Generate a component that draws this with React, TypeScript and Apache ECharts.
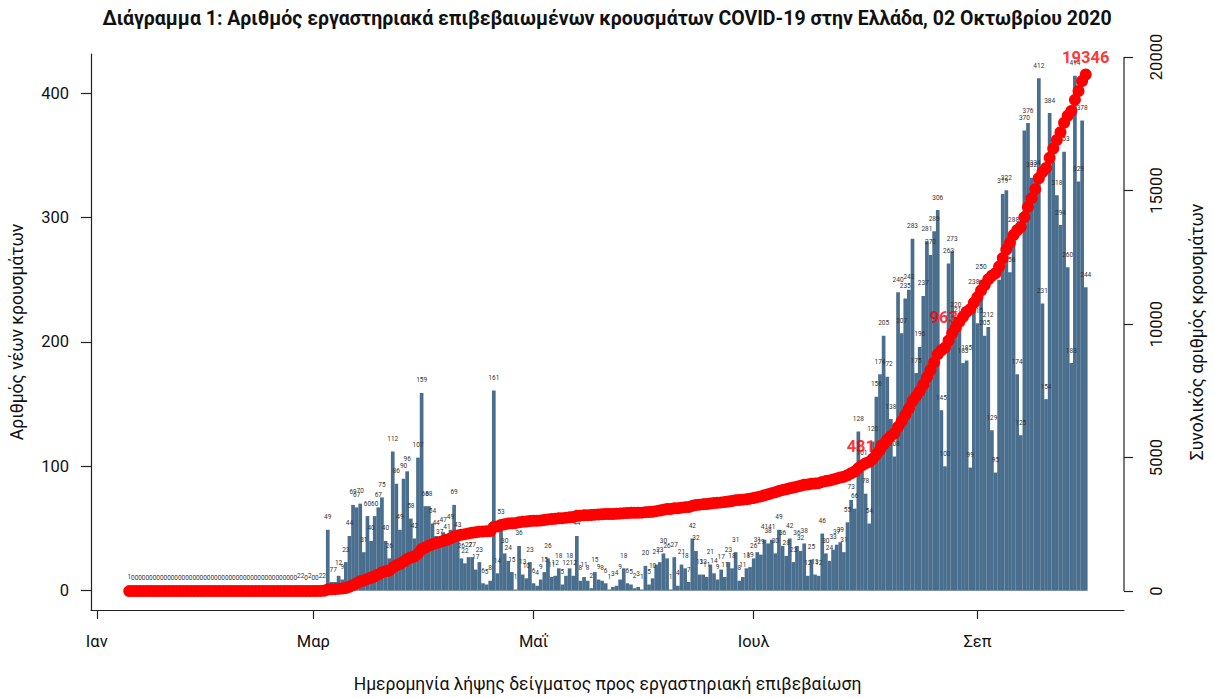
import React, { useEffect, useRef } from "react";
import * as echarts from "echarts";

// Daily new laboratory-confirmed cases by sample date, starting 10 Jan 2020 (index 0) up to 1 Oct 2020
const dailyCases: number[] = [
  1,
  0, 0, 0, 0, 0, 0, 0, 0, 0, 0,
  0, 0, 0, 0, 0, 0, 0, 0, 0, 0,
  0, 0, 0, 0, 0, 0, 0, 0, 0, 0,
  0, 0, 0, 0, 0, 0, 0, 0, 0, 0,
  0, 0, 0, 0, 0,
  0, 2, 2, 0, 2, 0, 0, 2, 2,
  49, 7, 7, 12, 9, 23, 44, 69, 67, 70,
  31, 60, 40, 60, 67, 75, 40, 26, 112, 86,
  49, 90, 96, 58, 42, 107, 159, 68, 68, 54,
  44, 37, 47, 41, 49, 69, 43, 26, 22, 27,
  27, 17, 23, 6, 5, 8, 161, 14, 53, 30,
  24, 15, 1, 36, 13, 10, 23, 6, 4, 9,
  15, 26, 11, 12, 18, 5, 12, 18, 12, 44,
  8, 11, 8, 2, 15, 9, 8, 6, 1, 3,
  4, 9, 18, 6, 5, 2, 3, 1, 20, 5,
  10, 21, 23, 30, 26, 1, 27, 4, 21, 18,
  7, 42, 32, 13, 13, 11, 21, 14, 9, 17,
  11, 23, 18, 31, 8, 11, 18, 19, 26, 31,
  29, 41, 38, 41, 30, 49, 36, 28, 42, 23,
  36, 32, 38, 12, 25, 13, 12, 46, 30, 24,
  33, 37, 39, 31, 55, 73, 66, 128, 101, 78,
  54, 120, 156, 174, 205, 172, 138, 108, 240, 207,
  235, 242, 283, 175, 196, 237, 281, 270, 289, 306,
  145, 100, 263, 273, 220, 216, 183, 185, 99, 238,
  215, 250, 205, 212, 129, 95, 250, 319, 322, 256,
  288, 174, 125, 370, 376, 332, 334, 412, 231, 154,
  384, 345, 318, 294, 353, 260, 183, 414, 329, 378, 244,
];

// Month ticks (day index relative to 10 Jan 2020)
const monthTickDays: number[] = [-9, 51, 112, 173, 235];
const monthTickLabels: string[] = ["Ιαν", "Μαρ", "Μαΐ", "Ιουλ", "Σεπ"];

const leftTicks: number[] = [0, 100, 200, 300, 400];
const rightTicks: number[] = [0, 5000, 10000, 15000, 20000];

// Red cumulative annotations
const annotDays: number[] = [204, 227, 265];
const annotValues: number[] = [4810, 9630, 19346];

const titleText =
  "Διάγραμμα 1: Αριθμός εργαστηριακά επιβεβαιωμένων κρουσμάτων COVID-19 στην Ελλάδα, 02 Οκτωβρίου 2020";
const xName = "Ημερομηνία λήψης δείγματος προς εργαστηριακή επιβεβαίωση";
const yLeftName = "Αριθμός νέων κρουσμάτων";
const yRightName = "Συνολικός αριθμός κρουσμάτων";

const FONT = "Roboto, 'Noto Sans', 'DejaVu Sans', sans-serif";
const BAR_COLOR = "#4A6E8D";
const AXIS_COLOR = "#222";

export default function App() {
  const ref = useRef<HTMLDivElement>(null);

  useEffect(() => {
    document.body.style.margin = "0";
    if (!ref.current) return;
    const chart = echarts.init(ref.current, undefined, { renderer: "svg" });

    const n = dailyCases.length;
    let run = 0;
    const cumulative = dailyCases.map((v) => (run += v));
    const ext = 0.04 * (n - 1);
    const xMin = -ext;
    const xMax = n - 1 + ext;

    const barData = dailyCases.map((v, i) => [i, v]);
    const cumData = cumulative.map((v, i) => [i, v]);
    const annotData = annotDays.map((d, k) => [d, annotValues[k]]);

    const option: any = {
      animation: false,
      backgroundColor: "#ffffff",
      title: {
        text: titleText,
        left: "center",
        top: 8,
        padding: [0, 0, 0, 6],
        textStyle: {
          fontFamily: FONT,
          fontSize: 19.5,
          fontWeight: "bold",
          color: "#111",
        },
      },
      grid: { left: 90, right: 81, top: 54, bottom: 84, containLabel: false },
      xAxis: {
        type: "value",
        min: xMin,
        max: xMax,
        name: xName,
        nameLocation: "middle",
        nameGap: 65,
        nameTextStyle: { fontFamily: FONT, fontSize: 17.5, color: "#111" },
        axisLine: { show: true, onZero: false, lineStyle: { color: AXIS_COLOR, width: 1.2 } },
        axisTick: {
          show: true,
          length: 9,
          customValues: monthTickDays,
          lineStyle: { color: AXIS_COLOR, width: 1.2 },
        },
        axisLabel: {
          customValues: monthTickDays,
          margin: 23,
          fontFamily: FONT,
          fontSize: 16.5,
          color: "#111",
          formatter: (val: number) => {
            const k = monthTickDays.indexOf(Math.round(val));
            return k >= 0 ? monthTickLabels[k] : "";
          },
        },
        splitLine: { show: false },
      },
      yAxis: [
        {
          type: "value",
          position: "left",
          min: -15.5,
          max: 431.5,
          name: yLeftName,
          nameLocation: "middle",
          nameRotate: 90,
          nameGap: 65,
          nameTextStyle: { fontFamily: FONT, fontSize: 17.5, color: "#111" },
          axisLine: { show: true, onZero: false, lineStyle: { color: AXIS_COLOR, width: 1.2 } },
          axisTick: {
            show: true,
            length: 10,
            customValues: leftTicks,
            lineStyle: { color: AXIS_COLOR, width: 1.2 },
          },
          axisLabel: {
            customValues: leftTicks,
            margin: 22,
            fontFamily: FONT,
            fontSize: 16.5,
            color: "#111",
            formatter: (v: number) => String(v),
          },
          splitLine: { show: false },
        },
        {
          type: "value",
          position: "right",
          min: -706,
          max: 20111,
          name: yRightName,
          nameLocation: "middle",
          nameRotate: 90,
          nameGap: 64,
          nameTextStyle: { fontFamily: FONT, fontSize: 17.5, color: "#111" },
          axisLine: { show: false, onZero: false },
          axisTick: {
            show: true,
            length: 9,
            customValues: rightTicks,
            lineStyle: { color: AXIS_COLOR, width: 1.2 },
          },
          axisLabel: {
            customValues: rightTicks,
            rotate: 90,
            margin: 24,
            fontFamily: FONT,
            fontSize: 16.5,
            color: "#111",
            formatter: (v: number) => String(v),
          },
          splitLine: { show: false },
        },
      ],
      series: [
        {
          name: "daily",
          type: "bar",
          xAxisIndex: 0,
          yAxisIndex: 0,
          data: barData,
          barWidth: 3.7,
          z: 2,
          itemStyle: { color: BAR_COLOR },
          label: {
            show: true,
            position: "top",
            distance: 9,
            fontSize: 6.5,
            fontFamily: FONT,
            color: "#333",
            textBorderWidth: 0,
            formatter: (p: any) => String(p.value[1]),
          },
        },
        {
          name: "annot",
          type: "scatter",
          xAxisIndex: 0,
          yAxisIndex: 1,
          data: annotData,
          symbolSize: 0,
          z: 3,
          label: {
            show: true,
            position: "top",
            distance: 8,
            fontSize: 16.5,
            fontWeight: "bold",
            fontFamily: FONT,
            color: "#FF0000",
            formatter: (p: any) => String(p.value[1]),
          },
        },
        {
          name: "cumulative",
          type: "scatter",
          xAxisIndex: 0,
          yAxisIndex: 1,
          data: cumData,
          symbol: "circle",
          symbolSize: 12,
          z: 5,
          itemStyle: { color: "#FF0000", opacity: 1 },
        },
      ],
    };

    chart.setOption(option);

    // Right axis line spanning only from the first to the last tick (R style)
    const xr = chart.convertToPixel({ xAxisIndex: 0 }, xMax) as number;
    const y0 = chart.convertToPixel({ yAxisIndex: 1 }, rightTicks[0]) as number;
    const y1 = chart.convertToPixel(
      { yAxisIndex: 1 },
      rightTicks[rightTicks.length - 1]
    ) as number;
    chart.setOption({
      graphic: [
        {
          type: "line",
          shape: { x1: xr, y1: y0, x2: xr, y2: y1 },
          style: { stroke: AXIS_COLOR, lineWidth: 1.2 },
          z: 10,
        },
      ],
    });

    return () => chart.dispose();
  }, []);

  return <div ref={ref} style={{ width: 1214, height: 698 }} />;
}
